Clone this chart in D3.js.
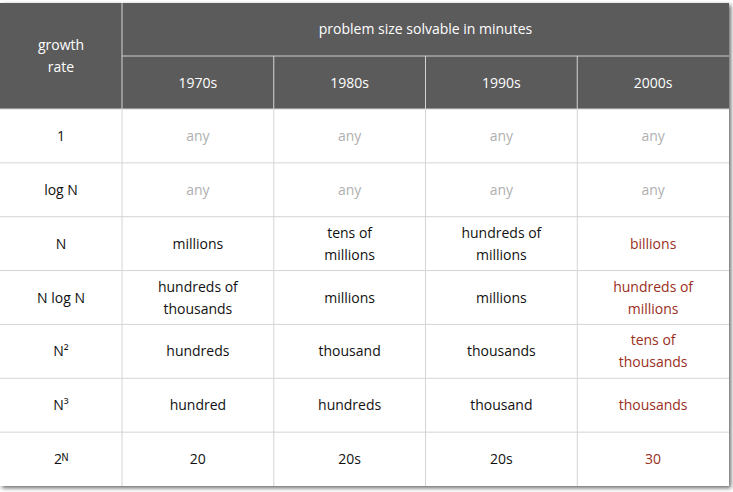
<!DOCTYPE html>
<html><head><meta charset="utf-8">
<script src="https://cdn.jsdelivr.net/npm/d3@7"></script>
<style>body{margin:0;background:#fff}text{font-family:"Open Sans",sans-serif;font-size:14px}</style>
</head><body><svg id="t" width="733" height="492"></svg>
<script>
const title = 'problem size solvable in minutes'
const corner = ['growth', 'rate']
const decades = ['1970s', '1980s', '1990s', '2000s']
const rates = ['1', 'log N', 'N', 'N log N', 'N²', 'N³', '2ᴺ']
const c1970 = ['any', 'any', 'millions', 'hundreds of|thousands', 'hundreds', 'hundred', '20']
const c1980 = ['any', 'any', 'tens of|millions', 'millions', 'thousand', 'hundreds', '20s']
const c1990 = ['any', 'any', 'hundreds of|millions', 'millions', 'thousands', 'thousand', '20s']
const c2000 = ['any', 'any', 'billions', 'hundreds of|millions', 'tens of|thousands', 'thousands', '30']
const cols = [c1970, c1980, c1990, c2000]

const tLeft = 0, firstW = 122, tRight = 729, tTop = 3, hdr1 = 56, hdr2 = 109, tBottom = 486
const x = d3.scaleBand().domain(decades).range([firstW, tRight])
const y = d3.scaleBand().domain(rates).range([hdr2, tBottom])
const svg = d3.select('#t')

const defs = svg.append('defs')
const f = defs.append('filter').attr('id', 'sh').attr('x', '-5%').attr('y', '-5%').attr('width', '110%').attr('height', '110%')
f.append('feDropShadow').attr('dx', 2).attr('dy', 2).attr('stdDeviation', 2).attr('flood-color', '#000').attr('flood-opacity', 0.6)

svg.append('rect').attr('x', tLeft).attr('y', tTop).attr('width', tRight - tLeft).attr('height', tBottom - tTop)
  .attr('fill', '#fff').attr('filter', 'url(#sh)')
svg.append('rect').attr('x', tLeft).attr('y', tTop).attr('width', tRight - tLeft).attr('height', hdr2 - tTop).attr('fill', '#5b5b5b')

const line = (x1, y1, x2, y2, c) => svg.append('line').attr('x1', x1).attr('y1', y1).attr('x2', x2).attr('y2', y2)
  .attr('stroke', c).attr('stroke-width', 1)
line(firstW, tTop, firstW, tBottom, '#d4d4d4')
line(firstW, hdr1, tRight, hdr1, '#cfcfcf')
decades.slice(1).forEach(d => line(x(d), hdr1, x(d), tBottom, '#d4d4d4'))
rates.forEach(r => line(tLeft, y(r), tRight, y(r), '#d4d4d4'))

function label(cx, cy, txt, color) {
  const parts = txt.split('|')
  const t = svg.append('text').attr('x', cx).attr('text-anchor', 'middle').attr('fill', color)
  parts.forEach((p, i) => t.append('tspan').attr('x', cx)
    .attr('y', cy + 5 + (i - (parts.length - 1) / 2) * 22).text(p))
}
label(firstW / 2, (tTop + hdr2) / 2, corner.join('|'), '#fff')
label((firstW + tRight) / 2, (tTop + hdr1) / 2 - 1, title, '#fff')
decades.forEach(d => label(x(d) + x.bandwidth() / 2, (hdr1 + hdr2) / 2, d, '#fff'))
rates.forEach((r, i) => {
  const cy = y(r) + y.bandwidth() / 2
  label(firstW / 2, cy, r, '#111')
  cols.forEach((c, j) => {
    const v = c[i]
    const col = v === 'any' ? '#b0b0b0' : j === 3 ? '#9a2f22' : '#111'
    label(x(decades[j]) + x.bandwidth() / 2, cy, v, col)
  })
})
</script></body></html>
